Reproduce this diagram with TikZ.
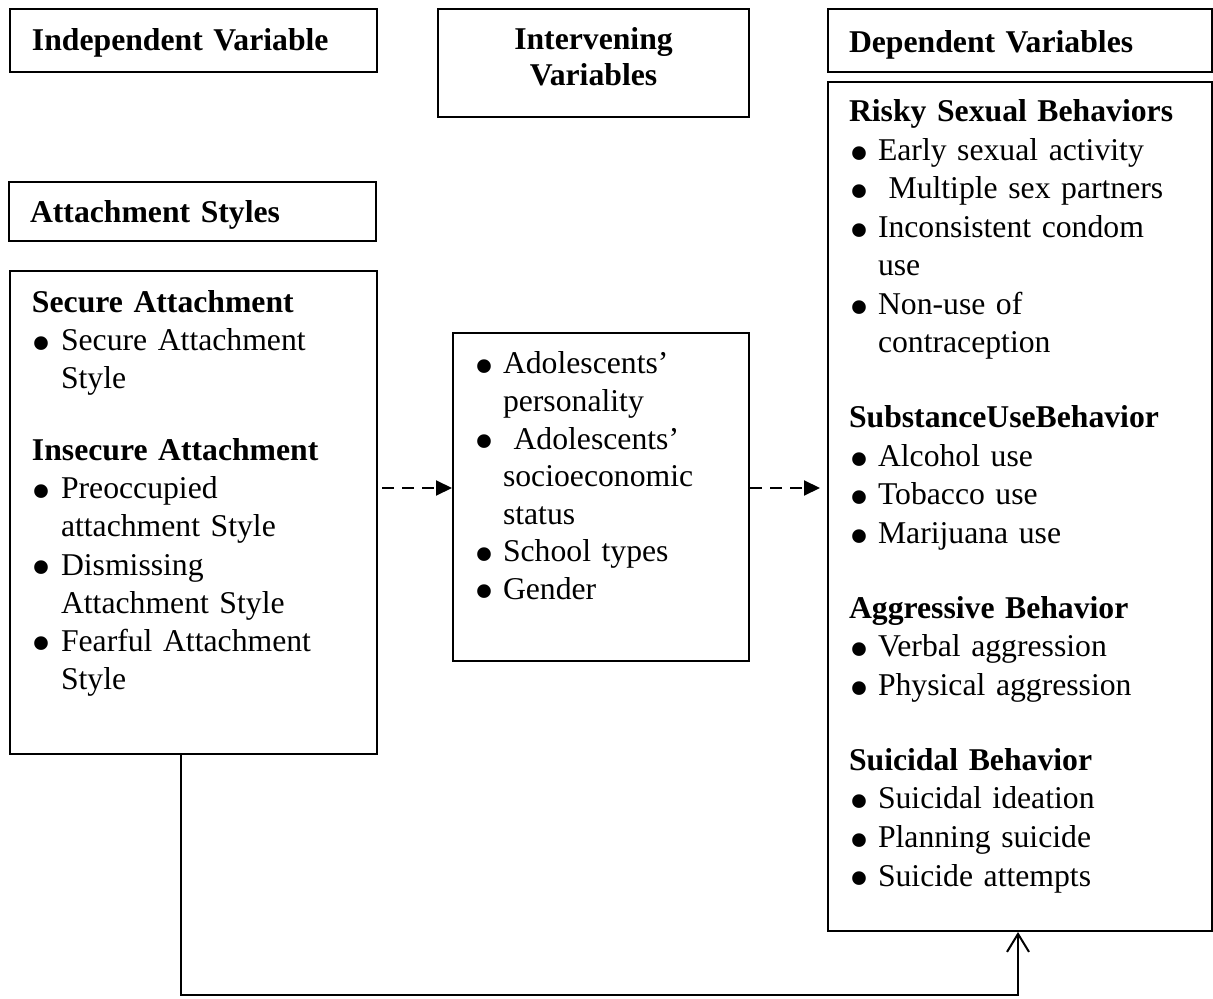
\documentclass[tikz,border=0pt]{standalone}
\usepackage{fontspec}
\setmainfont{Liberation Serif}
\usepackage{graphicx}
\usetikzlibrary{arrows.meta}
\newcommand{\bul}{\makebox[14.5pt][l]{\raisebox{-0.37em}{\scalebox{1.8}{\textbullet}}}}
\newcommand{\contind}{\hspace*{14.5pt}}
\begin{document}
\begin{tikzpicture}[x=0.5pt, y=-0.5pt,
    varbox/.style={draw, line width=1pt, anchor=north west, inner ysep=0pt, align=left, font=\fontsize{15.85pt}{19pt}\selectfont},
    dashedarrow/.style={line width=1pt, dash pattern=on 6pt off 4pt, -{Triangle[length=8pt, width=7.5pt]}},
    backarrow/.style={line width=1pt, -{Straight Barb[length=9pt, width=11pt]}}]
    \useasboundingbox (0,0) rectangle (1213,999);

    % header boxes
    \node[varbox, inner xsep=11pt, text width=161.5pt, text height=21pt, text depth=10.5pt] (indep) at (9,8) {\textbf{Independent Variable}};
    \node[varbox, align=center, inner xsep=5pt, text width=145.5pt, text height=20.5pt, text depth=33.5pt, font=\fontsize{15.85pt}{18pt}\selectfont] (interv) at (437,8) {\textbf{Intervening}\\\textbf{Variables}};
    \node[varbox, inner xsep=10.5pt, text width=171pt, text height=22pt, text depth=9.5pt] (dep) at (827,8) {\textbf{Dependent Variables}};
    \node[varbox, inner xsep=10.5pt, text width=162.5pt, text height=20.5pt, text depth=9pt] (attach) at (8,181) {\textbf{Attachment Styles}};

    % content boxes
    \node[varbox, inner xsep=11pt, text width=161.5pt, text height=21pt, text depth=220.5pt] (leftbox) at (9,270) {%
        \textbf{Secure Attachment}\\
        \bul Secure Attachment\\
        \contind Style\\[17pt]
        \textbf{Insecure Attachment}\\
        \bul Preoccupied\\
        \contind attachment Style\\
        \bul Dismissing\\
        \contind Attachment Style\\
        \bul Fearful Attachment\\
        \contind Style};
    \node[varbox, inner xsep=10.5pt, text width=127pt, text height=20.5pt, text depth=143.5pt, font=\fontsize{15.85pt}{18.75pt}\selectfont] (midbox) at (452,332) {%
        \bul Adolescents’\\
        \contind personality\\
        \bul\ Adolescents’\\
        \contind socioeconomic\\
        \contind status\\
        \bul School types\\
        \bul Gender};
    \node[varbox, inner xsep=10.5pt, text width=171pt, text height=20pt, text depth=404.5pt, font=\fontsize{15.85pt}{19.25pt}\selectfont] (rightbox) at (827,81) {%
        \textbf{Risky Sexual Behaviors}\\
        \bul Early sexual activity\\
        \bul\ Multiple sex partners\\
        \bul Inconsistent condom\\
        \contind use\\
        \bul Non-use of\\
        \contind contraception\\[18.25pt]
        \textbf{SubstanceUseBehavior}\\
        \bul Alcohol use\\
        \bul Tobacco use\\
        \bul Marijuana use\\[18.25pt]
        \textbf{Aggressive Behavior}\\
        \bul Verbal aggression\\
        \bul Physical aggression\\[18.25pt]
        \textbf{Suicidal Behavior}\\
        \bul Suicidal ideation\\
        \bul Planning suicide\\
        \bul Suicide attempts};

    % connectors
    \coordinate (arrowrow) at (0,488);
    \draw[dashedarrow] ([xshift=2pt]leftbox.east |- arrowrow) -- (midbox.west |- arrowrow);
    \draw[dashedarrow] (midbox.east |- arrowrow) -- ([xshift=-3.5pt]rightbox.west |- arrowrow);
    \draw[backarrow] ([xshift=-6.25pt]leftbox.south) -- ++(0,240) -| ([xshift=-1pt]rightbox.south);
\end{tikzpicture}
\end{document}
